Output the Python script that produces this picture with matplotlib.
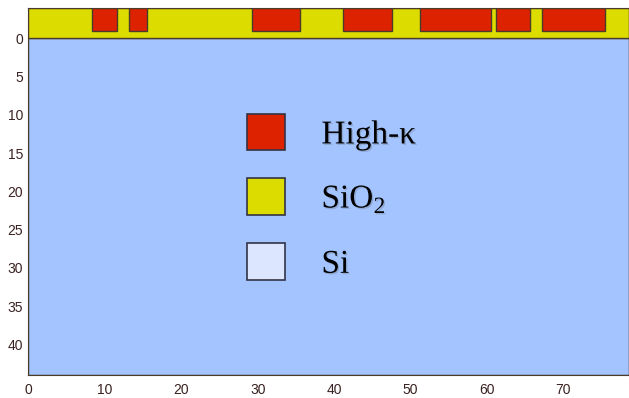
import matplotlib.pyplot as plt
import matplotlib.patheffects as pe
from matplotlib.patches import Patch

plt.rcParams["font.family"] = ["Liberation Sans", "DejaVu Sans"]
plt.rcParams["mathtext.fontset"] = "custom"
plt.rcParams["mathtext.rm"] = "Liberation Serif"

# layer stack (depth grows downward, surface at 0)
x_max = 78.6
si_depth = 44.0
oxide_top = -4.0
highk_bottom = -1.0

# high-k islands sitting in the oxide: left edge and width
highk_left = [8.3, 13.2, 29.3, 41.2, 51.2, 61.2, 67.2]
highk_width = [3.3, 2.3, 6.3, 6.4, 9.3, 4.4, 8.3]

materials = ["High-\u03ba", "SiO$_2$", "Si"]
colors = ["#dd2200", "#dcdc00", "#a3c4fe"]
edge = "#4a3b2a"

fig = plt.figure(figsize=(6.29, 3.98), dpi=100)
ax = fig.add_axes([0.0453, 0.0578, 0.9547, 0.9232])

ax.bar([0], [si_depth], width=x_max, bottom=0, align="edge",
       color=colors[2], edgecolor=edge, linewidth=1)
ax.bar([0], [-oxide_top], width=x_max, bottom=oxide_top, align="edge",
       color=colors[1], edgecolor=edge, linewidth=1)
ax.bar(highk_left, [highk_bottom - oxide_top] * len(highk_left), width=highk_width,
       bottom=oxide_top, align="edge", color=colors[0], edgecolor=edge, linewidth=1)

ax.set_xlim(0, x_max)
ax.set_ylim(si_depth, oxide_top)
ax.set_xticks(range(0, 71, 10))
ax.set_yticks(range(0, 41, 5))
ax.tick_params(length=0, labelsize=10, labelcolor="#3a2222")
ax.tick_params(axis="x", pad=6)
ax.tick_params(axis="y", pad=4)
for s in ax.spines.values():
    s.set_color(edge)

handles = [Patch(facecolor=c, edgecolor="#333344", linewidth=1.2) for c in colors]
handles[2].set_facecolor("#dde6ff")
leg = ax.legend(handles, materials, loc="upper left", bbox_to_anchor=(0.364, 0.71),
                frameon=False, prop={"family": "Liberation Serif", "size": 24},
                handlelength=1.13, handleheight=1.3, handletextpad=1.1,
                labelspacing=0.84, borderpad=0, borderaxespad=0)
for t in leg.get_texts():
    t.set_path_effects([pe.withSimplePatchShadow(offset=(1, -1), shadow_rgbFace="#555555", alpha=0.25)])

fig.savefig("out.png", dpi=100)
